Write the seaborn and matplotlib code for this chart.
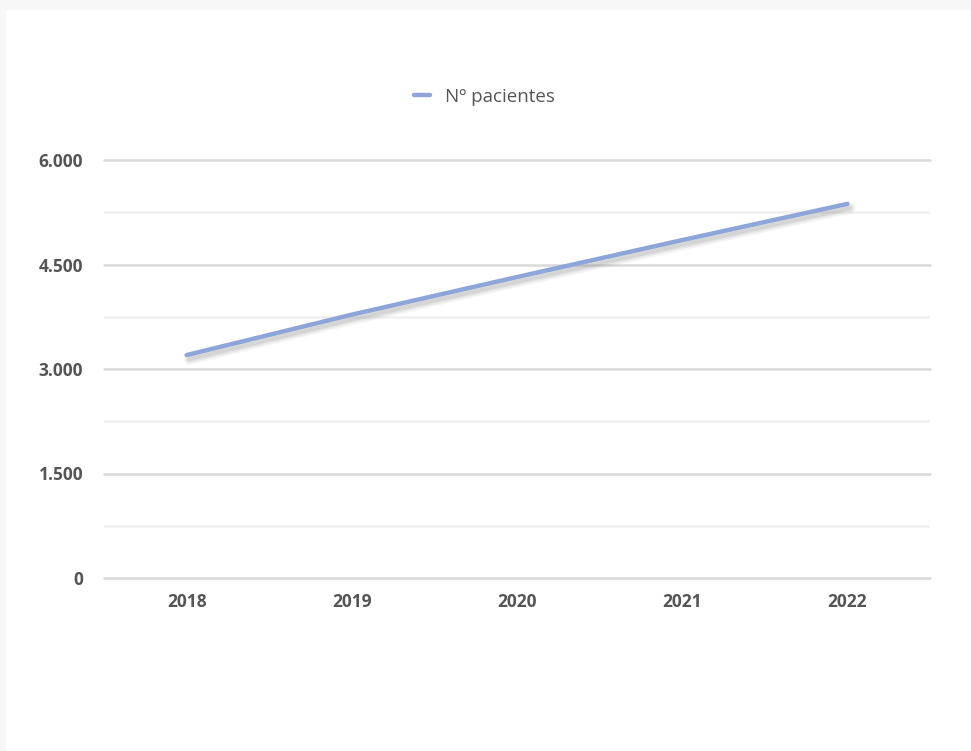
import matplotlib
matplotlib.use("Agg")
import matplotlib.pyplot as plt
import matplotlib.patheffects as pe
from matplotlib.ticker import FixedLocator
from matplotlib.lines import Line2D
import seaborn as sns
import pandas as pd

years = ["2018", "2019", "2020", "2021", "2022"]
pacientes = [3200, 3780, 4320, 4850, 5370]
series_name = "Nº pacientes"
yticks = [0, 1500, 3000, 4500, 6000]
ytick_labels = ["0", "1.500", "3.000", "4.500", "6.000"]

sns.set_theme(style="white")
plt.rcParams['font.family'] = ['Open Sans', 'DejaVu Sans']

df = pd.DataFrame({"year": years, "value": pacientes, "serie": series_name})

fig = plt.figure(figsize=(9.71, 7.51), dpi=100)
fig.patch.set_facecolor("#f7f7f7")
fig.add_artist(plt.Rectangle((6/971, 0), 1, 1 - 10/751, transform=fig.transFigure,
                             facecolor="white", edgecolor="none", zorder=0))

ax = fig.add_axes([104/971, 1 - 578/751, (930 - 104)/971, (578 - 160)/751])
ax.set_facecolor("white")

color = "#8ea5da"
shadow = [
    pe.SimpleLineShadow(offset=(2, -3), shadow_color="#888888", alpha=0.08, linewidth=8),
    pe.SimpleLineShadow(offset=(2, -3), shadow_color="#888888", alpha=0.12, linewidth=5.5),
    pe.SimpleLineShadow(offset=(2, -3), shadow_color="#888888", alpha=0.18, linewidth=3),
    pe.Normal(),
]
sns.lineplot(data=df, x="year", y="value", hue="serie", palette=[color], ax=ax,
             linewidth=3.2, sort=False, legend=False, path_effects=shadow,
             solid_capstyle="round", zorder=5)

ax.set_xlim(-0.5, len(years) - 0.5)
ax.set_ylim(0, 6000)
ax.yaxis.set_major_locator(FixedLocator(yticks))
ax.set_yticklabels(ytick_labels)
ax.yaxis.set_minor_locator(FixedLocator([750, 2250, 3750, 5250]))
ax.grid(which="major", axis="y", color="#d9d9d9", linewidth=1.8, zorder=1)
ax.grid(which="minor", axis="y", color="#f0f0f0", linewidth=1.8, zorder=1)
for gl in ax.yaxis.get_gridlines():
    gl.set_clip_on(False)
ax.grid(axis="x", visible=False)
for s in ax.spines.values():
    s.set_visible(False)
ax.set_xlabel("")
ax.set_ylabel("")
ax.tick_params(axis="both", which="both", length=0, labelsize=12.5, labelcolor="#555555")
ax.tick_params(axis="y", pad=15)
ax.tick_params(axis="x", pad=11)
for lab in ax.get_xticklabels() + ax.get_yticklabels():
    lab.set_fontweight("bold")

handle = Line2D([0], [0], color=color, linewidth=3.2)
leg = fig.legend([handle], [series_name], loc="center", bbox_to_anchor=(484/971, 1 - 97/751),
                 frameon=False, fontsize=13.5, handlelength=0.85, handletextpad=0.8)
for t in leg.get_texts():
    t.set_color("#555555")

fig.savefig("out.png", dpi=100, facecolor=fig.get_facecolor())
